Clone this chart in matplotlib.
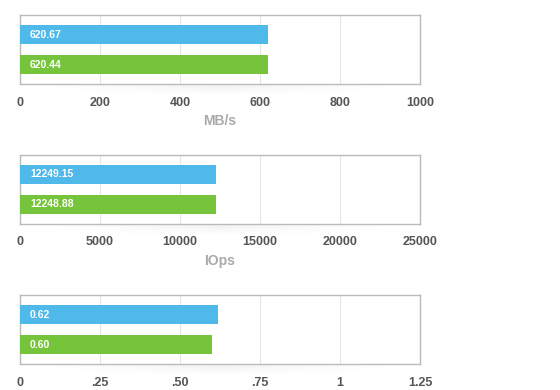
import matplotlib
matplotlib.use('Agg')
import matplotlib.pyplot as plt
import numpy as np

plt.rcParams['font.family'] = ['Liberation Sans', 'DejaVu Sans']

# data: one panel per metric, blue series on top, green below
blue_values = [620.67, 12249.15, 0.62]
green_values = [620.44, 12248.88, 0.60]
blue_labels = ['620.67', '12249.15', '0.62']
green_labels = ['620.44', '12248.88', '0.60']
x_max = [1000, 25000, 1.25]
x_ticks = [[0, 200, 400, 600, 800, 1000],
           [0, 5000, 10000, 15000, 20000, 25000],
           [0, 0.25, 0.5, 0.75, 1.0, 1.25]]
x_tick_labels = [['0', '200', '400', '600', '800', '1000'],
                 ['0', '5000', '10000', '15000', '20000', '25000'],
                 ['0', '.25', '.50', '.75', '1', '1.25']]
units = ['MB/s', 'IOps', '']

blue = '#4fb9ea'
green = '#76c43b'

fig = plt.figure(figsize=(5.6, 3.9), dpi=100)

W, H = 560, 390
left, width, height = 20, 400, 69
tops = [15, 155, 295]

# faint shadow strip under each box
shade = np.linspace(0.06, 0, 12)[:, None] * np.ones((1, 50))
edge = np.minimum(np.linspace(0, 1, 50), np.linspace(1, 0, 50)) * 2
shade = shade * np.clip(edge, 0, 1)[None, :]

for i in range(3):
    top = tops[i]
    sh = fig.add_axes([(left + 20) / W, 1 - (top + height + 12) / H, (width - 40) / W, 12 / H])
    sh.imshow(np.dstack([np.zeros_like(shade)] * 3 + [shade]), aspect='auto',
              extent=[0, 1, 0, 1], interpolation='bilinear')
    sh.axis('off')

    ax = fig.add_axes([left / W, 1 - (top + height) / H, width / W, height / H])
    ax.barh([1], [blue_values[i]], height=0.65, color=blue, zorder=3)
    ax.barh([0], [green_values[i]], height=0.65, color=green, zorder=3)
    off = x_max[i] * 0.025
    ax.text(off, 1, blue_labels[i], color='white', fontsize=7.5, fontweight='bold',
            va='center', ha='left', zorder=4)
    ax.text(off, 0, green_labels[i], color='white', fontsize=7.5, fontweight='bold',
            va='center', ha='left', zorder=4)
    ax.set_xlim(0, x_max[i])
    ax.set_ylim(-0.65, 1.65)
    ax.set_yticks([])
    ax.set_xticks(x_ticks[i])
    ax.set_xticklabels(x_tick_labels[i])
    ax.tick_params(axis='x', length=0, pad=9, labelsize=9, labelcolor='#555555')
    for lab in ax.get_xticklabels():
        lab.set_fontweight('bold')
    ax.grid(axis='x', color='#e6e6e6', linewidth=0.8, zorder=0)
    for s in ax.spines.values():
        s.set_color('#bbbbbb')
        s.set_linewidth(1)
    if units[i]:
        ax.set_xlabel(units[i], fontsize=10, fontweight='bold', color='#aaaaaa', labelpad=4)

fig.savefig('out.png', dpi=100)
